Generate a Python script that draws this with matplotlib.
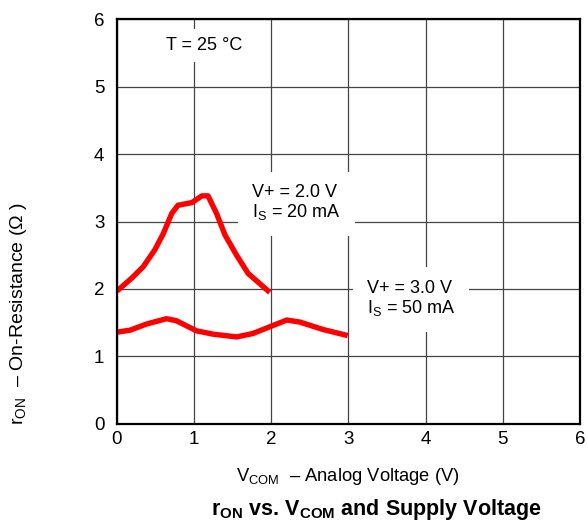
import matplotlib
matplotlib.use("Agg")
import matplotlib.pyplot as plt

plt.rcParams['font.family'] = ['Liberation Sans', 'DejaVu Sans']
plt.rcParams['mathtext.fontset'] = 'custom'
plt.rcParams['mathtext.rm'] = 'Liberation Sans'
plt.rcParams['mathtext.bf'] = 'Liberation Sans:bold'

# V+ = 2.0 V, IS = 20 mA
v_com_2v = [0.0, 0.19, 0.34, 0.49, 0.60, 0.71, 0.79, 0.97, 1.10, 1.18, 1.29, 1.40, 1.55, 1.70, 1.85, 1.98]
r_on_2v = [1.97, 2.16, 2.33, 2.58, 2.82, 3.12, 3.24, 3.28, 3.38, 3.38, 3.12, 2.80, 2.50, 2.23, 2.08, 1.95]

# V+ = 3.0 V, IS = 50 mA
v_com_3v = [0.0, 0.17, 0.38, 0.64, 0.77, 1.03, 1.25, 1.55, 1.76, 1.98, 2.20, 2.37, 2.67, 2.99]
r_on_3v = [1.36, 1.39, 1.48, 1.56, 1.53, 1.38, 1.33, 1.29, 1.34, 1.44, 1.54, 1.51, 1.40, 1.31]

ticks = [0, 1, 2, 3, 4, 5, 6]

fig = plt.figure(figsize=(5.87, 5.21), dpi=100)
ax = fig.add_axes([0.1993, 0.1862, 0.7887, 0.7773])

ax.plot(v_com_2v, r_on_2v, color='#ff0000', lw=3.9, solid_capstyle='butt', zorder=3)
ax.plot(v_com_3v, r_on_3v, color='#ff0000', lw=3.9, solid_capstyle='butt', zorder=3)

ax.set_xlim(0, 6)
ax.set_ylim(0, 6)
ax.set_xticks(ticks)
ax.set_yticks(ticks)
ax.grid(True, color='#444444', lw=0.9)
ax.set_axisbelow(True)
ax.tick_params(length=0, labelsize=13.5)
ax.tick_params(axis='x', pad=5)
ax.tick_params(axis='y', pad=9)
for s in ax.spines.values():
    s.set_linewidth(1.6)
    s.set_zorder(4)

box = dict(facecolor='white', edgecolor='none', pad=6)
ax.text(0.63, 5.61, 'T = 25 °C', fontsize=13, va='center', ha='left', bbox=box, zorder=2)
ax.text(1.75, 3.27, 'V+ = 2.0 V\n$\\mathregular{I_S}$ = 20 mA', fontsize=13, va='center', ha='left',
        linespacing=1.05, bbox=dict(facecolor='white', edgecolor='none', pad=10), zorder=2)
ax.text(3.24, 1.85, 'V+ = 3.0 V\n$\\mathregular{I_S}$ = 50 mA', fontsize=13, va='center', ha='left',
        linespacing=1.05, bbox=dict(facecolor='white', edgecolor='none', pad=10), zorder=2)

fig.text(0.593, 1 - 481 / 521, '$\\mathregular{V_{COM}}$  – Analog Voltage (V)', fontsize=13.2,
         ha='center', va='baseline')
fig.text(0.031, 1 - 314 / 521, '$\\mathregular{r_{ON}}$  – On-Resistance (Ω )', fontsize=14,
         ha='center', va='center', rotation=90)
fig.text(0.641, 1 - 515 / 521, '$\\mathbf{r_{ON}}$ vs. $\\mathbf{V_{COM}}$ and Supply Voltage',
         fontsize=15.5, fontweight='bold', ha='center', va='baseline')

fig.savefig('out.png', dpi=100)
